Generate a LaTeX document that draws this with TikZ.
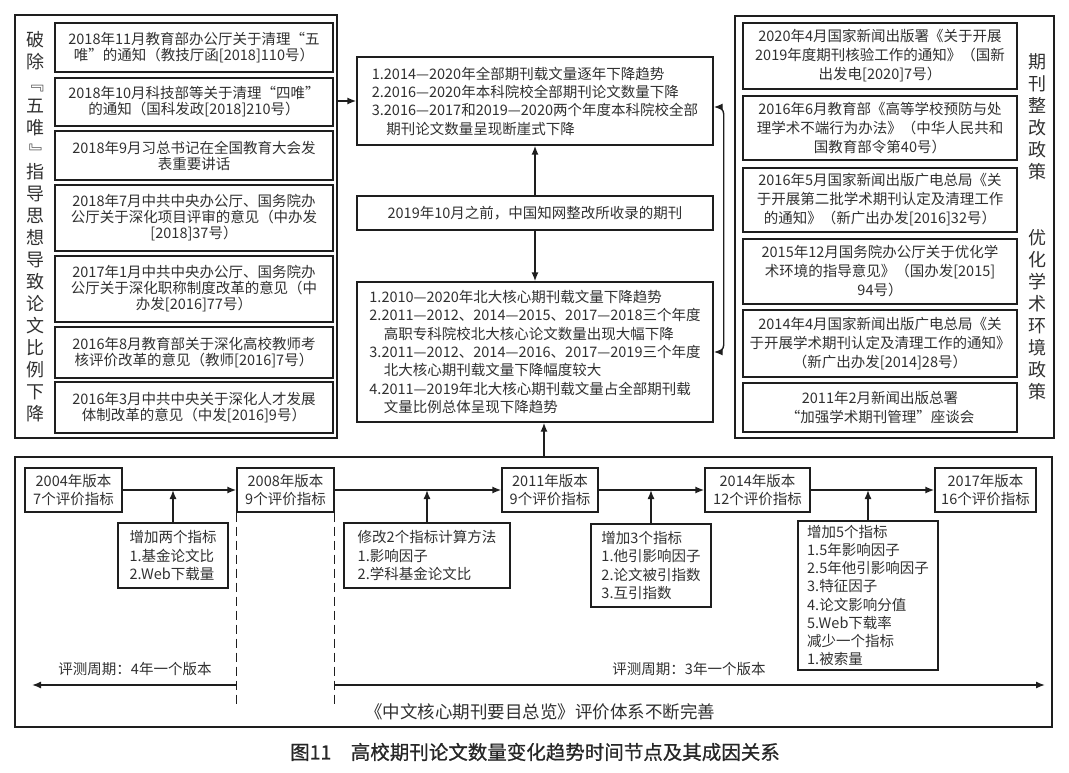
\documentclass[tikz,border=0pt]{standalone}
\usepackage{fontspec}
\setmainfont{Noto Sans CJK SC}
\newfontfamily\capfont{Noto Sans CJK SC}[FakeBold=0.8]
\usepackage{graphicx}
\usepackage{tikz}
\usetikzlibrary{arrows.meta,positioning,calc}
\definecolor{inkline}{RGB}{30,30,30}
\definecolor{inktext}{RGB}{48,48,48}
\newcommand{\fsDoc}{\fontsize{14.5}{16}\selectfont}
\newcommand{\fsPol}{\fontsize{14.5}{19}\selectfont}
\newcommand{\fsList}{\fontsize{14.5}{18.3}\selectfont}
\newcommand{\fsStep}{\fontsize{14.5}{18.2}\selectfont}
\newcommand{\fsVert}{\fontsize{18}{22}\selectfont}
\newcommand{\vopen}{\rotatebox[origin=c]{-90}{『}}
\newcommand{\vclose}{\rotatebox[origin=c]{-90}{』}}
\tikzset{
  panel/.style={draw=inkline,line width=2.2pt,inner sep=0pt},
  doc/.style={draw=inkline,line width=1.4pt,inner sep=0pt,align=center,font=\fsDoc},
  policy/.style={doc,font=\fsPol},
  finding/.style={draw=inkline,line width=1.4pt,inner sep=0pt,minimum width=356,align=left,font=\fsList},
  ver/.style={draw=inkline,line width=1.4pt,inner sep=0pt,minimum height=44,align=center,font=\fsStep},
  change/.style={draw=inkline,line width=1.4pt,inner sep=0pt,align=left,font=\fsStep},
  vtitle/.style={inner sep=0pt,align=center,font=\fsVert},
  plain/.style={inner sep=0pt,font=\fsStep},
  arr/.style={-{Latex[length=9pt,width=7pt]},draw=inkline,line width=1.4pt},
  twoway/.style={{Latex[length=9pt,width=7pt]}-{Latex[length=9pt,width=7pt]},draw=inkline,line width=1.4pt,rounded corners=7pt},
  guide/.style={draw=inkline,line width=1.4pt,dash pattern=on 9pt off 5pt}
}

\begin{document}
\begin{tikzpicture}[x=1pt,y=-1pt,color=inktext]
  \useasboundingbox (0,0) rectangle (1069,773);

  % left panel
  \node[panel,minimum width=322,minimum height=423] (lpanel) at (176,226.5) {};
  \node[vtitle] (ltitle) at (36,227) {破\\除\\\vopen\\五\\唯\\\vclose\\指\\导\\思\\想\\导\\致\\论\\文\\比\\例\\下\\降};
  \node[doc,minimum width=278,minimum height=49] (l1) at (194,47.5) {2018年11月教育部办公厅关于清理“五\\唯”的通知（教技厅函[2018]110号）};
  \node[doc,minimum width=278,minimum height=48] (l2) at (194,102) {2018年10月科技部等关于清理“四唯”\\的通知（国科发政[2018]210号）};
  \node[doc,minimum width=278,minimum height=49] (l3) at (194,155.5) {2018年9月习总书记在全国教育大会发\\表重要讲话};
  \node[doc,minimum width=278,minimum height=66] (l4) at (194,218) {2018年7月中共中央办公厅、国务院办\\公厅关于深化项目评审的意见（中办发\\{}[2018]37号）};
  \node[doc,minimum width=278,minimum height=66] (l5) at (194,289) {2017年1月中共中央办公厅、国务院办\\公厅关于深化职称制度改革的意见（中\\办发[2016]77号）};
  \node[doc,minimum width=278,minimum height=51] (l6) at (194,352.5) {2016年8月教育部关于深化高校教师考\\核评价改革的意见（教师[2016]7号）};
  \node[doc,minimum width=278,minimum height=51] (l7) at (194,407.5) {2016年3月中共中央关于深化人才发展\\体制改革的意见（中发[2016]9号）};

  % right panel
  \node[panel,minimum width=319,minimum height=422] (rpanel) at (894.5,227) {};
  \node[vtitle] (rtitle1) at (1037,117) {期\\刊\\整\\改\\政\\策};
  \node[vtitle] (rtitle2) at (1037,315) {优\\化\\学\\术\\环\\境\\政\\策};
  \node[policy,minimum width=274,minimum height=66] (r1) at (880,56) {2020年4月国家新闻出版署《关于开展\\2019年度期刊核验工作的通知》（国新\\出发电[2020]7号）};
  \node[policy,minimum width=274,minimum height=64] (r2) at (880,128) {2016年6月教育部《高等学校预防与处\\理学术不端行为办法》（中华人民共和\\国教育部令第40号）};
  \node[policy,minimum width=274,minimum height=64] (r3) at (880,200) {2016年5月国家新闻出版广电总局《关\\于开展第二批学术期刊认定及清理工作\\的通知》（新广出办发[2016]32号）};
  \node[policy,minimum width=274,minimum height=65] (r4) at (880,271.5) {2015年12月国务院办公厅关于优化学\\术环境的指导意见》（国办发[2015]\\94号）};
  \node[policy,minimum width=274,minimum height=67] (r5) at (880,343.5) {2014年4月国家新闻出版广电总局《关\\于开展学术期刊认定及清理工作的通知》\\（新广出办发[2014]28号）};
  \node[policy,minimum width=274,minimum height=49] (r6) at (880,407.5) {2011年2月新闻出版总署\\“加强学术期刊管理”座谈会};

  % middle column
  \node[finding,minimum height=88] (mtop) at (535,101) {1.2014—2020年全部期刊载文量逐年下降趋势\\2.2016—2020年本科院校全部期刊论文数量下降\\3.2016—2017和2019—2020两个年度本科院校全部\\\hspace*{1em}期刊论文数量呈现断崖式下降};
  \node[finding,line width=2.4pt,minimum height=34,align=center] (mmid) at (535,213) {2019年10月之前，中国知网整改所收录的期刊};
  \node[finding,minimum height=140] (mlow) at (535,352) {1.2010—2020年北大核心期刊载文量下降趋势\\2.2011—2012、2014—2015、2017—2018三个年度\\\hspace*{1em}高职专科院校北大核心论文数量出现大幅下降\\3.2011—2012、2014—2016、2017—2019三个年度\\\hspace*{1em}北大核心期刊载文量下降幅度较大\\4.2011—2019年北大核心期刊载文量占全部期刊载\\\hspace*{1em}文量比例总体呈现下降趋势};

  \draw[arr] (lpanel.east |- mtop.west) -- (mtop.west);
  \draw[arr] (mmid.north) -- (mtop.south);
  \draw[arr] (mmid.south) -- (mlow.north);
  \draw[twoway] ($(mtop.east)+(0,6)$) -- ++(10,0) |- (mlow.east);

  % bottom panel: evaluation system
  \node[panel,minimum width=1037,minimum height=270] (bpanel) at (533.5,592) {};
  \coordinate (feed) at (544,457);
  \draw[arr] (feed) -- (feed |- mlow.south);

  \node[ver,minimum width=97] (v2004) at (73.5,490) {2004年版本\\7个评价指标};
  \node[ver,minimum width=97] (v2008) at (285.5,490) {2008年版本\\9个评价指标};
  \node[ver,minimum width=96] (v2011) at (550,490) {2011年版本\\9个评价指标};
  \node[ver,minimum width=105] (v2014) at (757.5,490) {2014年版本\\12个评价指标};
  \node[ver,minimum width=101] (v2017) at (985.5,490) {2017年版本\\16个评价指标};
  \draw[arr] (v2004) -- (v2008);
  \draw[arr] (v2008) -- (v2011);
  \draw[arr] (v2011) -- (v2014);
  \draw[arr] (v2014) -- (v2017);

  \node[change,minimum width=110,minimum height=65] (a1) at (173,555.5) {增加两个指标\\1.基金论文比\\2.Web下载量};
  \node[change,minimum width=166,minimum height=65] (a2) at (427,555.5) {修改2个指标计算方法\\1.影响因子\\2.学科基金论文比};
  \node[change,minimum width=120,minimum height=83] (a3) at (651,565.5) {增加3个指标\\1.他引影响因子\\2.论文被引指数\\3.互引指数};
  \node[change,minimum width=140,minimum height=149] (a4) at (868,595.5) {增加5个指标\\1.5年影响因子\\2.5年他引影响因子\\3.特征因子\\4.论文影响分值\\5.Web下载率\\减少一个指标\\1.被索量};
  \draw[arr] (a1.north) -- (a1.north |- v2004.east);
  \draw[arr] (a2.north) -- (a2.north |- v2008.east);
  \draw[arr] (a3.north) -- (a3.north |- v2011.east);
  \draw[arr] (a4.north) -- (a4.north |- v2014.east);

  \draw[guide] (v2008.south west) -- ++(0,193);
  \draw[guide] (v2008.south east) -- ++(0,193);
  \coordinate (p4) at (32,685);
  \coordinate (p3) at (1045,685);
  \draw[arr] (v2008.south west |- p4) -- (p4);
  \draw[arr] (v2008.south east |- p3) -- (p3);
  \node[plain] (cyc4) at (135,669) {评测周期：4年一个版本};
  \node[plain] (cyc3) at (689,669) {评测周期：3年一个版本};
  \node[plain,font=\fontsize{17.5}{20}\selectfont] (btitle) at (540,712) {《中文核心期刊要目总览》评价体系不断完善};

  \node[inner sep=0pt,font=\capfont\fontsize{19.5}{23}\selectfont,color=black!85] (fig) at (535,752) {图11\hspace{1em}高校期刊论文数量变化趋势时间节点及其成因关系};
\end{tikzpicture}
\end{document}
